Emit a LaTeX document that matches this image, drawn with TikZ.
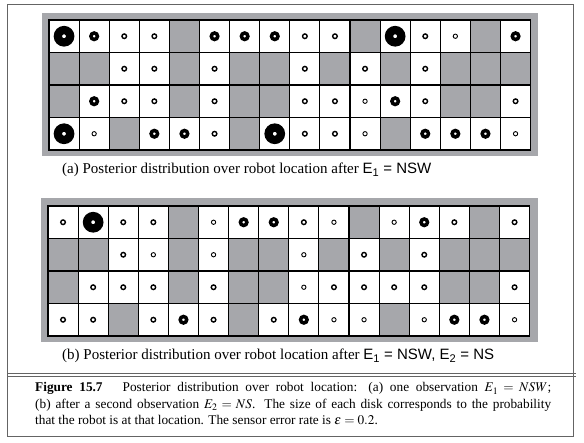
\documentclass[tikz,border=0pt]{standalone}
\usepackage{mathptmx}
\usepackage[no-math]{fontspec}
\setmainfont{Liberation Serif}
\setsansfont{Liberation Sans}
\definecolor{mazegray}{RGB}{166,167,171}
\definecolor{framegray}{RGB}{100,100,100}

\begin{document}
\begin{tikzpicture}[x=1pt, y=1pt,
  wall/.style={fill=mazegray, minimum width=30.1pt, minimum height=32.5pt, inner sep=0pt, outer sep=0pt},
  bigdisk/.style={circle, draw=black, fill=white, inner sep=0pt, line width=8.3pt, minimum size=12.3pt},
  middisk/.style={circle, draw=black, fill=white, inner sep=0pt, line width=3.5pt, minimum size=6.5pt},
  smalldisk/.style={circle, draw=black, fill=white, inner sep=0pt, line width=1.4pt, minimum size=4.6pt},
  tinydisk/.style={circle, draw=black, fill=white, inner sep=0pt, line width=0.9pt, minimum size=4.3pt},
  subcap/.style={anchor=base west, inner sep=0pt, font=\fontsize{15}{18}\selectfont}]
\useasboundingbox (0,0) rectangle (584,443);

% figure frame
\draw[framegray, line width=0.9pt] (7,7) rectangle (573,439);
\draw[framegray, line width=0.8pt] (7,70) -- (576,70);
\draw[framegray, line width=0.8pt] (7,67) -- (576,67);

% (a) after E_1
\begin{scope}[shift={(49pt,293pt)}, x=30.1pt, y=32.5pt]
\fill[mazegray] ([xshift=-7pt,yshift=-6pt]0,0) rectangle ([xshift=7.5pt,yshift=7pt]16,4);
\fill[white] (0,0) rectangle (16,4);
\node[bigdisk] (a-1-1) at (0.5,3.5) {};
\node[middisk] (a-1-2) at (1.5,3.5) {};
\node[smalldisk] (a-1-3) at (2.5,3.5) {};
\node[smalldisk] (a-1-4) at (3.5,3.5) {};
\node[wall] (a-1-5) at (4.5,3.5) {};
\node[middisk] (a-1-6) at (5.5,3.5) {};
\node[middisk] (a-1-7) at (6.5,3.5) {};
\node[middisk] (a-1-8) at (7.5,3.5) {};
\node[smalldisk] (a-1-9) at (8.5,3.5) {};
\node[smalldisk] (a-1-10) at (9.5,3.5) {};
\node[wall] (a-1-11) at (10.5,3.5) {};
\node[bigdisk] (a-1-12) at (11.5,3.5) {};
\node[smalldisk] (a-1-13) at (12.5,3.5) {};
\node[tinydisk] (a-1-14) at (13.5,3.5) {};
\node[wall] (a-1-15) at (14.5,3.5) {};
\node[middisk] (a-1-16) at (15.5,3.5) {};

\node[wall] (a-2-1) at (0.5,2.5) {};
\node[wall] (a-2-2) at (1.5,2.5) {};
\node[smalldisk] (a-2-3) at (2.5,2.5) {};
\node[smalldisk] (a-2-4) at (3.5,2.5) {};
\node[wall] (a-2-5) at (4.5,2.5) {};
\node[smalldisk] (a-2-6) at (5.5,2.5) {};
\node[wall] (a-2-7) at (6.5,2.5) {};
\node[wall] (a-2-8) at (7.5,2.5) {};
\node[smalldisk] (a-2-9) at (8.5,2.5) {};
\node[wall] (a-2-10) at (9.5,2.5) {};
\node[smalldisk] (a-2-11) at (10.5,2.5) {};
\node[wall] (a-2-12) at (11.5,2.5) {};
\node[smalldisk] (a-2-13) at (12.5,2.5) {};
\node[wall] (a-2-14) at (13.5,2.5) {};
\node[wall] (a-2-15) at (14.5,2.5) {};
\node[wall] (a-2-16) at (15.5,2.5) {};

\node[wall] (a-3-1) at (0.5,1.5) {};
\node[middisk] (a-3-2) at (1.5,1.5) {};
\node[smalldisk] (a-3-3) at (2.5,1.5) {};
\node[smalldisk] (a-3-4) at (3.5,1.5) {};
\node[wall] (a-3-5) at (4.5,1.5) {};
\node[smalldisk] (a-3-6) at (5.5,1.5) {};
\node[wall] (a-3-7) at (6.5,1.5) {};
\node[wall] (a-3-8) at (7.5,1.5) {};
\node[smalldisk] (a-3-9) at (8.5,1.5) {};
\node[smalldisk] (a-3-10) at (9.5,1.5) {};
\node[tinydisk] (a-3-11) at (10.5,1.5) {};
\node[middisk] (a-3-12) at (11.5,1.5) {};
\node[smalldisk] (a-3-13) at (12.5,1.5) {};
\node[wall] (a-3-14) at (13.5,1.5) {};
\node[wall] (a-3-15) at (14.5,1.5) {};
\node[smalldisk] (a-3-16) at (15.5,1.5) {};

\node[bigdisk] (a-4-1) at (0.5,0.5) {};
\node[tinydisk] (a-4-2) at (1.5,0.5) {};
\node[wall] (a-4-3) at (2.5,0.5) {};
\node[middisk] (a-4-4) at (3.5,0.5) {};
\node[middisk] (a-4-5) at (4.5,0.5) {};
\node[smalldisk] (a-4-6) at (5.5,0.5) {};
\node[wall] (a-4-7) at (6.5,0.5) {};
\node[bigdisk] (a-4-8) at (7.5,0.5) {};
\node[smalldisk] (a-4-9) at (8.5,0.5) {};
\node[smalldisk] (a-4-10) at (9.5,0.5) {};
\node[tinydisk] (a-4-11) at (10.5,0.5) {};
\node[wall] (a-4-12) at (11.5,0.5) {};
\node[middisk] (a-4-13) at (12.5,0.5) {};
\node[middisk] (a-4-14) at (13.5,0.5) {};
\node[middisk] (a-4-15) at (14.5,0.5) {};
\node[tinydisk] (a-4-16) at (15.5,0.5) {};

\draw[step=1, line width=1.1pt] (0,0) grid (16,4);
\draw[line width=1.6pt] (0,0) rectangle (16,4);
\end{scope}
\node[subcap] (capa) at (62,269) {(a) Posterior distribution over robot location after \textsf{E\textsubscript{1} = NSW}};

% (b) after E_1, E_2
\begin{scope}[shift={(48pt,107pt)}, x=30.1pt, y=32.5pt]
\fill[mazegray] ([xshift=-7pt,yshift=-6pt]0,0) rectangle ([xshift=8pt,yshift=8pt]16,4);
\fill[white] (0,0) rectangle (16,4);
\node[smalldisk] (b-1-1) at (0.5,3.5) {};
\node[bigdisk] (b-1-2) at (1.5,3.5) {};
\node[smalldisk] (b-1-3) at (2.5,3.5) {};
\node[smalldisk] (b-1-4) at (3.5,3.5) {};
\node[wall] (b-1-5) at (4.5,3.5) {};
\node[tinydisk] (b-1-6) at (5.5,3.5) {};
\node[middisk] (b-1-7) at (6.5,3.5) {};
\node[middisk] (b-1-8) at (7.5,3.5) {};
\node[smalldisk] (b-1-9) at (8.5,3.5) {};
\node[tinydisk] (b-1-10) at (9.5,3.5) {};
\node[wall] (b-1-11) at (10.5,3.5) {};
\node[tinydisk] (b-1-12) at (11.5,3.5) {};
\node[middisk] (b-1-13) at (12.5,3.5) {};
\node[smalldisk] (b-1-14) at (13.5,3.5) {};
\node[wall] (b-1-15) at (14.5,3.5) {};
\node[smalldisk] (b-1-16) at (15.5,3.5) {};

\node[wall] (b-2-1) at (0.5,2.5) {};
\node[wall] (b-2-2) at (1.5,2.5) {};
\node[smalldisk] (b-2-3) at (2.5,2.5) {};
\node[tinydisk] (b-2-4) at (3.5,2.5) {};
\node[wall] (b-2-5) at (4.5,2.5) {};
\node[tinydisk] (b-2-6) at (5.5,2.5) {};
\node[wall] (b-2-7) at (6.5,2.5) {};
\node[wall] (b-2-8) at (7.5,2.5) {};
\node[tinydisk] (b-2-9) at (8.5,2.5) {};
\node[wall] (b-2-10) at (9.5,2.5) {};
\node[smalldisk] (b-2-11) at (10.5,2.5) {};
\node[wall] (b-2-12) at (11.5,2.5) {};
\node[smalldisk] (b-2-13) at (12.5,2.5) {};
\node[wall] (b-2-14) at (13.5,2.5) {};
\node[wall] (b-2-15) at (14.5,2.5) {};
\node[wall] (b-2-16) at (15.5,2.5) {};

\node[wall] (b-3-1) at (0.5,1.5) {};
\node[smalldisk] (b-3-2) at (1.5,1.5) {};
\node[smalldisk] (b-3-3) at (2.5,1.5) {};
\node[smalldisk] (b-3-4) at (3.5,1.5) {};
\node[wall] (b-3-5) at (4.5,1.5) {};
\node[smalldisk] (b-3-6) at (5.5,1.5) {};
\node[wall] (b-3-7) at (6.5,1.5) {};
\node[wall] (b-3-8) at (7.5,1.5) {};
\node[tinydisk] (b-3-9) at (8.5,1.5) {};
\node[smalldisk] (b-3-10) at (9.5,1.5) {};
\node[smalldisk] (b-3-11) at (10.5,1.5) {};
\node[smalldisk] (b-3-12) at (11.5,1.5) {};
\node[smalldisk] (b-3-13) at (12.5,1.5) {};
\node[wall] (b-3-14) at (13.5,1.5) {};
\node[wall] (b-3-15) at (14.5,1.5) {};
\node[smalldisk] (b-3-16) at (15.5,1.5) {};

\node[smalldisk] (b-4-1) at (0.5,0.5) {};
\node[smalldisk] (b-4-2) at (1.5,0.5) {};
\node[wall] (b-4-3) at (2.5,0.5) {};
\node[smalldisk] (b-4-4) at (3.5,0.5) {};
\node[middisk] (b-4-5) at (4.5,0.5) {};
\node[smalldisk] (b-4-6) at (5.5,0.5) {};
\node[wall] (b-4-7) at (6.5,0.5) {};
\node[smalldisk] (b-4-8) at (7.5,0.5) {};
\node[middisk] (b-4-9) at (8.5,0.5) {};
\node[tinydisk] (b-4-10) at (9.5,0.5) {};
\node[tinydisk] (b-4-11) at (10.5,0.5) {};
\node[wall] (b-4-12) at (11.5,0.5) {};
\node[tinydisk] (b-4-13) at (12.5,0.5) {};
\node[middisk] (b-4-14) at (13.5,0.5) {};
\node[middisk] (b-4-15) at (14.5,0.5) {};
\node[tinydisk] (b-4-16) at (15.5,0.5) {};

\draw[step=1, line width=1.1pt] (0,0) grid (16,4);
\draw[line width=1.6pt] (0,0) rectangle (16,4);
\end{scope}
\node[subcap] (capb) at (62,83) {(b) Posterior distribution over robot location after \textsf{E\textsubscript{1} = NSW, E\textsubscript{2} = NS}};

% figure caption
\node[anchor=base west, inner sep=0pt, text width=516pt, align=justify, font=\fontsize{13.3}{16.3}\selectfont] (figcap) at (35,51)
  {\textbf{Figure 15.7}\hspace{20pt}Posterior distribution over robot location: (a) one observation $E_1 = NSW$;\linebreak
   (b) after a second observation $E_2 = NS$. The size of each disk corresponds to the probability\linebreak
   that the robot is at that location. The sensor error rate is $\epsilon = 0.2$.};
\end{tikzpicture}
\end{document}
